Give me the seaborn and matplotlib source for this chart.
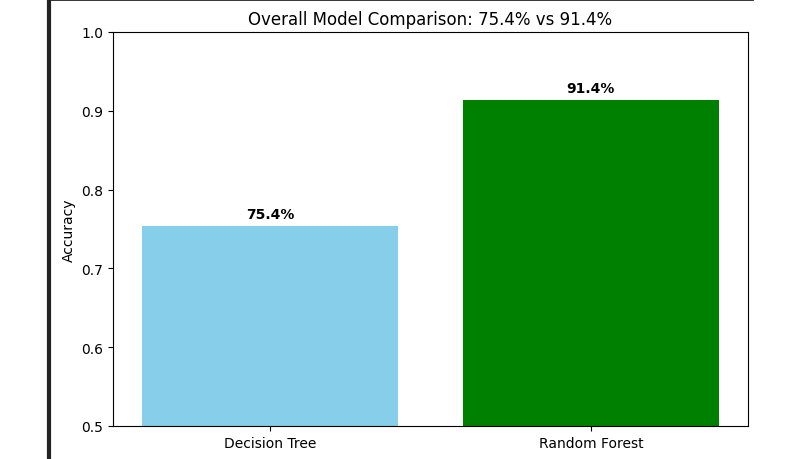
import matplotlib
matplotlib.use('Agg')
import pandas as pd
import matplotlib.pyplot as plt
import seaborn as sns

models = ['Decision Tree', 'Random Forest']
accuracy = [0.754, 0.914]
colors = ['skyblue', 'green']

df = pd.DataFrame({'Model': models, 'Accuracy': accuracy})

fig = plt.figure(figsize=(8, 4.6), dpi=100)
ax = fig.add_axes([113 / 800, 33 / 460, 635 / 800, 394 / 460])

sns.barplot(data=df, x='Model', y='Accuracy', hue='Model', palette=colors,
            saturation=1, width=0.8, legend=False, ax=ax)

for i, v in enumerate(accuracy):
    ax.text(i, v + 0.01, f'{v * 100:.1f}%', ha='center', fontweight='bold')

ax.set_ylim(0.5, 1.0)
ax.set_xlim(-0.49, 1.49)
ax.set_xlabel('')
ax.set_ylabel('Accuracy')
ax.set_title(f'Overall Model Comparison: {accuracy[0]*100:.1f}% vs {accuracy[1]*100:.1f}%')

# screenshot frame edges
fig.add_artist(plt.Line2D([49 / 800, 49 / 800], [0, 1], color='#222222', lw=3))
fig.add_artist(plt.Line2D([48 / 800, 752 / 800], [0.999, 0.999], color='#222222', lw=2))

fig.savefig('out.png', dpi=100)
